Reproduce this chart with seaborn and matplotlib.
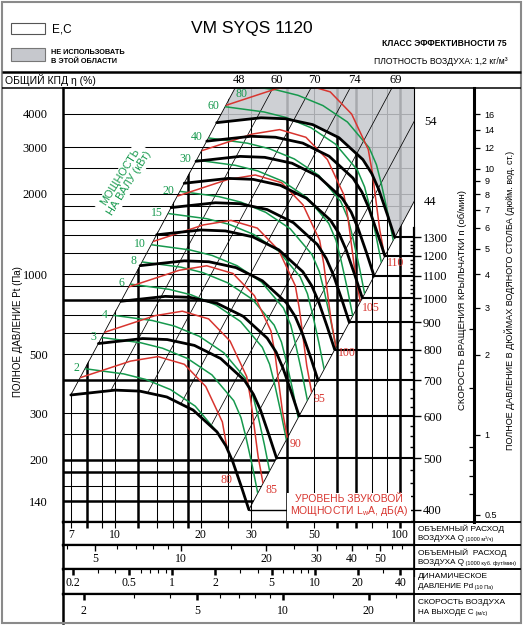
import numpy as np
import pandas as pd
import matplotlib
matplotlib.use("Agg")
import matplotlib.pyplot as plt
import seaborn as sns
from matplotlib.patches import Rectangle, Polygon
from matplotlib.lines import Line2D
from matplotlib.ticker import NullFormatter, NullLocator
from matplotlib.transforms import blended_transform_factory, offset_copy

# ---- values (Q in 1000 m3/h, Pt in Pa) ----
rpm = [400, 500, 600, 700, 800, 900, 1000, 1100, 1200, 1300]
black_q = [
    [7.0, 10.0, 12.2, 15.2, 18.8, 22.8, 24.5, 25.9, 27.8, 29.5],
    [8.75, 12.5, 15.25, 19.0, 23.5, 28.5, 30.6, 32.4, 34.75, 36.9],
    [10.5, 15.0, 18.3, 22.8, 28.2, 34.2, 36.75, 38.85, 41.7, 44.25],
    [12.25, 17.5, 21.35, 26.6, 32.9, 39.9, 42.9, 45.3, 48.65, 51.6],
    [14.0, 20.0, 24.4, 30.4, 37.6, 45.6, 49.0, 51.8, 55.6, 59.0],
    [15.75, 22.5, 27.45, 34.2, 42.3, 51.3, 55.1, 58.3, 62.55, 66.4],
    [17.5, 25.0, 30.5, 38.0, 47.0, 57.0, 61.25, 64.75, 69.5, 73.75],
    [19.25, 27.5, 33.55, 41.8, 51.7, 62.7, 67.4, 71.2, 76.45, 81.1],
    [21.0, 30.0, 36.6, 45.6, 56.4, 68.4, 73.5, 77.7, 83.4, 88.5],
    [22.75, 32.5, 39.65, 49.4, 61.1, 74.1, 79.6, 84.2, 90.35, 95.9],
]
black_p = [
    [351, 366, 363, 345, 308, 255, 226, 197, 158, 130],
    [548, 572, 567, 539, 481, 398, 353, 308, 247, 203],
    [790, 824, 817, 776, 693, 574, 509, 443, 356, 293],
    [1075, 1121, 1112, 1057, 943, 781, 692, 603, 484, 398],
    [1404, 1464, 1452, 1380, 1232, 1020, 904, 788, 632, 520],
    [1777, 1853, 1838, 1747, 1559, 1291, 1144, 997, 800, 658],
    [2194, 2288, 2269, 2156, 1925, 1594, 1413, 1231, 988, 813],
    [2654, 2768, 2745, 2609, 2329, 1928, 1709, 1490, 1195, 983],
    [3159, 3294, 3267, 3105, 2772, 2295, 2034, 1773, 1422, 1170],
    [3707, 3866, 3834, 3644, 3253, 2693, 2387, 2081, 1669, 1373],
]

power_kw = [2, 3, 4, 6, 8, 10, 15, 20, 30, 40, 60, 80]
green_q = [
    [7.85, 10.73, 12.83, 15.69, 19.12, 22.80, 24.18, 25.17, 26.53, 27.68],
    [8.98, 12.28, 14.69, 17.96, 21.89, 26.10, 27.68, 28.81, 30.37, 31.69],
    [9.88, 13.52, 16.17, 19.77, 24.09, 28.73, 30.46, 31.71, 33.43, 34.88],
    [11.31, 15.47, 18.51, 22.63, 27.58, 32.88, 34.87, 36.30, 38.26, 39.93],
    [12.45, 17.03, 20.37, 24.91, 30.35, 36.19, 38.38, 39.95, 42.11, 43.94],
    [13.41, 18.34, 21.94, 26.83, 32.70, 38.99, 41.35, 43.04, 45.37, 47.34],
    [15.36, 21.00, 25.12, 30.71, 37.43, 44.63, 47.33, 49.27, 51.93, 54.19],
    [16.90, 23.11, 27.65, 33.80, 41.20, 49.12, 52.10, 54.22, 57.16, 59.64],
    [19.35, 26.46, 31.65, 38.69, 47.16, 56.23, 59.63, 62.07, 65.43, 68.27],
    [21.29, 29.12, 34.83, 42.59, 51.91, 61.89, 65.64, 68.32, 72.02, 75.15],
    [24.38, 33.33, 39.87, 48.75, 59.42, 70.85, 75.13, 78.20, 82.44, 86.02],
    [26.83, 36.69, 43.89, 53.66, 65.40, 77.98, 82.70, 86.07, 90.73, 94.68],
]
green_p = [
    [440.6, 421.2, 401.4, 367.4, 318.7, 255.0, 220.2, 186.0, 143.9, 114.5],
    [577.4, 551.9, 526.0, 481.4, 417.6, 334.1, 288.5, 243.7, 188.6, 150.0],
    [699.5, 668.6, 637.2, 583.2, 505.9, 404.7, 349.5, 295.2, 228.5, 181.7],
    [916.6, 876.1, 835.0, 764.2, 662.9, 530.4, 458.0, 386.9, 299.4, 238.1],
    [1110.3, 1061.3, 1011.5, 925.7, 803.1, 642.5, 554.8, 468.6, 362.7, 288.5],
    [1288.5, 1231.6, 1173.8, 1074.3, 931.9, 745.6, 643.8, 543.8, 420.9, 334.7],
    [1688.3, 1613.8, 1538.0, 1407.6, 1221.1, 976.9, 843.6, 712.6, 551.5, 438.6],
    [2045.3, 1955.0, 1863.2, 1705.3, 1479.2, 1183.5, 1021.9, 863.2, 668.1, 531.3],
    [2680.1, 2561.7, 2441.5, 2234.5, 1938.3, 1550.8, 1339.1, 1131.2, 875.4, 696.2],
    [3246.8, 3103.4, 2957.8, 2707.0, 2348.2, 1878.7, 1622.3, 1370.3, 1060.5, 843.5],
    [4254.3, 4066.5, 3875.6, 3547.0, 3076.9, 2461.7, 2125.7, 1795.6, 1389.6, 1105.2],
    [5153.8, 4926.1, 4694.9, 4296.9, 3727.4, 2982.1, 2575.1, 2175.2, 1683.4, 1339.0],
]

sound_db = [80, 85, 90, 95, 100, 105, 110]
red_q = [
    [7.54, 11.34, 14.16, 17.51, 20.82, 23.81, 24.60, 25.20, 26.11, 27.17],
    [9.18, 13.80, 17.23, 21.31, 25.34, 28.98, 29.94, 30.67, 31.78, 33.07],
    [11.17, 16.80, 20.98, 25.94, 30.84, 35.27, 36.44, 37.33, 38.68, 40.25],
    [13.59, 20.45, 25.53, 31.57, 37.54, 42.93, 44.35, 45.44, 47.08, 48.99],
    [16.55, 24.88, 31.07, 38.42, 45.69, 52.25, 53.98, 55.30, 57.30, 59.62],
    [20.14, 30.29, 37.82, 46.77, 55.61, 63.59, 65.70, 67.30, 69.73, 72.57],
    [24.51, 36.86, 46.03, 56.92, 67.68, 77.40, 79.97, 81.92, 84.88, 88.32],
]
red_p = [
    [407.5, 470.6, 489.3, 457.8, 377.8, 278.0, 227.8, 186.5, 139.3, 110.3],
    [603.6, 697.1, 724.8, 678.1, 559.6, 411.8, 337.4, 276.3, 206.3, 163.4],
    [894.3, 1032.8, 1073.8, 1004.7, 829.1, 610.1, 499.9, 409.3, 305.7, 242.1],
    [1324.7, 1529.8, 1590.6, 1488.2, 1228.2, 903.7, 740.5, 606.3, 452.8, 358.6],
    [1962.3, 2266.1, 2356.2, 2204.5, 1819.3, 1338.7, 1096.9, 898.1, 670.8, 531.1],
    [2906.8, 3356.9, 3490.3, 3265.6, 2694.9, 1983.0, 1624.9, 1330.3, 993.7, 786.8],
    [4306.5, 4973.3, 5170.9, 4838.0, 3992.6, 2937.9, 2407.4, 1970.9, 1472.1, 1165.7],
]

# total efficiency lines, Pt = k * Q^2
eff_pct = [48, 60, 70, 74, 69, 54, 44]
eff_k = [7.19, 3.90, 2.11, 1.12, 0.570, 0.298, 0.149]

p_major = [140, 200, 300, 500, 1000, 2000, 3000, 4000]
p_minor = [160, 180, 250, 400, 600, 700, 800, 900, 1200, 1400, 1600, 1800, 2500]
p_thick = [140, 180, 200, 400, 800]
q_grid = [7, 8, 9, 10, 12, 14, 16, 18, 20, 25, 30, 40, 50, 60, 70, 80, 90, 100]
q_thick = [8, 12, 18, 40, 60, 70, 100]
q_labels = [7, 10, 20, 30, 50, 100]
cfm_labels = [5, 10, 20, 30, 40, 50]
cfm_minor = [4, 6, 7, 8, 9, 15, 25, 35, 45, 55, 60]
pd_labels = [0.2, 0.5, 1, 2, 5, 10, 20, 40]
pd_minor = [0.3, 0.4, 0.6, 0.7, 0.8, 0.9, 3, 4, 6, 7, 8, 9, 30]
c_labels = [2, 5, 10, 20]
c_minor = [3, 4, 6, 7, 8, 9, 15, 25]
inch_major = [0.5, 1, 2, 3, 4, 5, 6, 7, 8, 9, 10, 12, 14, 16]
inch_minor = [0.6, 0.7, 0.8, 0.9, 1.5, 2.5]
rpm_minor = [n for n in range(425, 1000, 25) if n % 100] + [n for n in range(1020, 1300, 20) if n % 100]

CFM_TO_Q = 1.699      # 1000 cfm -> 1000 m3/h
V_PER_Q = 0.2573      # outlet velocity m/s per 1000 m3/h
RHO = 1.2
PA_PER_INCH = 249.09

GREEN = '#16994d'
RED = '#d8352f'
GRAY = '#c6c8cd'
SANS = ['Liberation Sans', 'DejaVu Sans']
NARROW = ['Liberation Sans Narrow', 'Liberation Sans', 'DejaVu Sans']
SERIF = ['Liberation Serif', 'DejaVu Serif']

sns.set_style("white")
plt.rcParams.update({
    'font.family': SANS,
    'axes.edgecolor': 'black', 'text.color': 'black',
    'xtick.color': 'black', 'ytick.color': 'black',
})

W, H = 524, 626
fig = plt.figure(figsize=(W / 100, H / 100), dpi=100)


def fx(x):
    return x / W


def fy(y):
    return 1 - y / H


def box(x0, y0, x1, y1):
    return [fx(x0), fy(y1), fx(x1) - fx(x0), fy(y0) - fy(y1)]


def fig_line(x0, y0, x1, y1, lw, color='black'):
    fig.add_artist(Line2D([fx(x0), fx(x1)], [fy(y0), fy(y1)], transform=fig.transFigure,
                          color=color, lw=lw, solid_capstyle='butt'))


def long_frame(qs, ps, ids):
    rows = [(cid, a, b) for cid, q, p in zip(ids, qs, ps) for a, b in zip(q, p)]
    return pd.DataFrame(rows, columns=['curve', 'q', 'p'])


ax = fig.add_axes(box(63, 88, 414, 522))
ax.set_xscale('log')
ax.set_yscale('log')

k_left, k_right = eff_k[0], eff_k[-1]
q_hi, p_hi, p_lo = 150.0, 9000.0, 50.0
left_of_right = Polygon([(1, p_lo), (np.sqrt(p_lo / k_right), p_lo), (q_hi, k_right * q_hi ** 2),
                         (q_hi, p_hi), (1, p_hi)], closed=True, transform=ax.transData)
right_of_left = Polygon([(np.sqrt(p_lo / k_left), p_lo), (q_hi, p_lo), (q_hi, p_hi),
                         (np.sqrt(p_hi / k_left), p_hi)], closed=True, transform=ax.transData)
region = Polygon(list(zip(black_q[0], black_p[0])) +
                 [(q_hi, k_right * q_hi ** 2), (q_hi, p_hi), (np.sqrt(p_hi / k_left), p_hi)],
                 closed=True, transform=ax.transData)

# grid
for p in p_major + p_minor:
    ln = ax.axhline(p, color='black', lw=1.8 if p in p_thick else 0.75, zorder=1)
    ln.set_clip_path(left_of_right)
for q in q_grid:
    ln = ax.axvline(q, color='black', lw=1.8 if q in q_thick else 0.75, zorder=1)
    ln.set_clip_path(right_of_left)

# "do not use" area above the top speed
gray = Polygon([(np.sqrt(p_hi / k_left), p_hi)] + list(zip(black_q[-1], black_p[-1])) +
               [(q_hi, k_right * q_hi ** 2), (q_hi, p_hi)], closed=True,
               fc=GRAY, ec='none', alpha=0.85, zorder=1.5)
ax.add_patch(gray)

# efficiency lines
q_line = np.array([1.0, q_hi])
for k in eff_k[1:-1]:
    ln, = ax.plot(q_line, k * q_line ** 2, color='black', lw=0.55, zorder=2)
    ln.set_clip_path(region)
ax.plot([black_q[0][0], np.sqrt(p_hi / k_left)], [black_p[0][0], p_hi], color='black', lw=0.6, zorder=2)
ax.plot([black_q[0][-1], q_hi], [black_p[0][-1], k_right * q_hi ** 2], color='black', lw=0.6, zorder=2)

# shaft power and sound power curves
n0 = len(ax.lines)
sns.lineplot(data=long_frame(green_q, green_p, power_kw), x='q', y='p', units='curve',
             estimator=None, sort=False, color=GREEN, lw=1.1, zorder=3, legend=False, ax=ax)
sns.lineplot(data=long_frame(red_q, red_p, sound_db), x='q', y='p', units='curve',
             estimator=None, sort=False, color=RED, lw=1.1, zorder=3.5, legend=False, ax=ax)
for ln in ax.lines[n0:]:
    ln.set_clip_path(region)

# fan curves
sns.lineplot(data=long_frame(black_q, black_p, rpm), x='q', y='p', units='curve',
             estimator=None, sort=False, color='black', lw=2.0, zorder=5, legend=False, ax=ax)

ax.set_xlim(6.57, 112.0)
ax.set_ylim(116.9, 5003)
ax.set_xlabel('')
ax.set_ylabel('')
q_right = ax.get_xlim()[1]
p_top = ax.get_ylim()[1]

# speed reference lines to the rpm scale
for i, n in enumerate(rpm):
    ax.plot([black_q[i][-1], q_right], [black_p[i][-1]] * 2, color='black',
            lw=1.0 if i == 0 else 1.5, zorder=4, solid_capstyle='butt')

# labels on curves
for w, q, p in zip(power_kw, green_q, green_p):
    if p[0] < p_top:
        ax.annotate(str(w), (q[0], p[0]), xytext=(-4, 0.5), textcoords='offset points',
                    ha='right', va='center', color=GREEN, fontsize=8.5, family=SERIF, zorder=7)
    else:
        ax.text(27.9, 4750, str(w), ha='center', va='center', color=GREEN, fontsize=8.5,
                family=SERIF, zorder=7)
for db, q, p in zip(sound_db, red_q, red_p):
    if db == sound_db[0]:
        ax.text(24.6, 168, str(db), ha='center', va='center', color=RED, fontsize=8.5,
                family=SERIF, zorder=7)
    else:
        ax.annotate(str(db), (q[-1], p[-1]), xytext=(1.5, -4.5), textcoords='offset points',
                    ha='left', va='center', color=RED, fontsize=8.5, family=SERIF, zorder=7)

top_tr = offset_copy(blended_transform_factory(ax.transData, fig.transFigure), fig=fig, x=4, units='dots')
right_tr = blended_transform_factory(ax.transAxes, ax.transData)
for e, k in zip(eff_pct, eff_k):
    q_top = np.sqrt(p_top / k)
    if q_top <= q_right:
        ax.text(q_top, fy(80), str(e), transform=top_tr, ha='center', va='center',
                fontsize=9, family=SERIF)
    else:
        ax.text(1.046, k * q_right ** 2, str(e), transform=right_tr, ha='center',
                va='center', fontsize=9, family=SERIF)

# left pressure axis
ax.set_xticks([])
ax.xaxis.set_minor_locator(NullLocator())
ax.set_yticks(p_major, [str(v) for v in p_major])
ax.set_yticks(p_minor, minor=True)
ax.yaxis.set_minor_formatter(NullFormatter())
ax.tick_params(axis='y', which='major', length=9.4, width=1.0, pad=1.5, labelsize=9,
               labelfontfamily='Liberation Serif')
ax.tick_params(axis='y', which='minor', length=4.3, width=0.75)
for loc, t in zip(ax.yaxis.get_majorticklocs(), ax.yaxis.get_major_ticks()):
    t.tick1line.set_markeredgewidth(1.8 if loc in p_thick else 1.0)
for loc, t in zip(ax.yaxis.get_minorticklocs(), ax.yaxis.get_minor_ticks()):
    t.tick1line.set_markeredgewidth(1.8 if loc in p_thick else 0.75)
ax.spines['left'].set_linewidth(1.8)
ax.spines['top'].set_linewidth(1.1)
ax.spines['right'].set_linewidth(0.8)
ax.spines['bottom'].set_linewidth(1.6)


# impeller speed scale
def p_to_rpm(p):
    return rpm[0] * np.sqrt(np.maximum(np.asarray(p, dtype=float), 1e-9) / black_p[0][-1])


def rpm_to_p(n):
    return black_p[0][-1] * (np.asarray(n, dtype=float) / rpm[0]) ** 2


sec = ax.secondary_yaxis(1.0, functions=(p_to_rpm, rpm_to_p))
sec.set_yticks(rpm, [str(n) for n in rpm])
sec.set_yticks(rpm_minor, minor=True)
sec.yaxis.set_minor_formatter(NullFormatter())
sec.tick_params(axis='y', which='major', direction='out', length=5, width=1.0, pad=1.5,
                labelsize=9, labelfontfamily='Liberation Serif')
sec.tick_params(axis='y', which='minor', direction='in', length=3, width=1.0)
sec.spines['right'].set_linewidth(1.6)
sec.spines['right'].set_bounds(300, 1354)

# pressure in inches of water
sec2 = ax.secondary_yaxis((474 - 63) / (414 - 63),
                          functions=(lambda p: np.asarray(p, dtype=float) / PA_PER_INCH,
                                     lambda i: np.asarray(i, dtype=float) * PA_PER_INCH))
sec2.set_yticks(inch_major, [f"{v:g}" for v in inch_major])
sec2.set_yticks(inch_minor, minor=True)
sec2.yaxis.set_minor_formatter(NullFormatter())
sec2.tick_params(axis='y', which='major', direction='out', length=4.5, width=0.9, pad=3, labelsize=6.5)
sec2.tick_params(axis='y', which='minor', direction='in', length=3.5, width=0.9)
for loc, t in zip(sec2.yaxis.get_majorticklocs(), sec2.yaxis.get_major_ticks()):
    if loc in (4, 6):
        t.tick1line.set_color('#aaaaaa')
        t.tick2line.set_color('#aaaaaa')
sec2.spines['right'].set_linewidth(2.2)

# bottom scales
rows_px = [(522, 545), (545, 569), (569, 594), (594, 623)]
row_ticks = [
    (q_grid, []),
    ([v * CFM_TO_Q for v in cfm_labels], [v * CFM_TO_Q for v in cfm_minor]),
    ([np.sqrt(v * 10 / (0.5 * RHO)) / V_PER_Q for v in pd_labels],
     [np.sqrt(v * 10 / (0.5 * RHO)) / V_PER_Q for v in pd_minor]),
    ([v / V_PER_Q for v in c_labels], [v / V_PER_Q for v in c_minor]),
]
row_text = [q_labels, cfm_labels, pd_labels, c_labels]
row_text_q = [q_labels, row_ticks[1][0], row_ticks[2][0], row_ticks[3][0]]
row_titles = [
    ("ОБЪЕМНЫЙ РАСХОД", "ВОЗДУХА Q", "(1000 м³/ч)"),
    ("ОБЪЕМНЫЙ  РАСХОД", "ВОЗДУХА Q", "(1000 куб. фут/мин)"),
    ("ДИНАМИЧЕСКОЕ", "ДАВЛЕНИЕ Pd", "(10 Па)"),
    ("СКОРОСТЬ ВОЗДУХА", "НА ВЫХОДЕ C", "(м/с)"),
]
row_title_y = [(529, 539), (553, 563), (577, 587), (603, 613)]

for i, (y0, y1) in enumerate(rows_px):
    r = fig.add_axes(box(63, y0, 414, y1))
    r.set_xscale('log')
    r.set_xlim(ax.get_xlim())
    r.set_yticks([])
    major, minor = row_ticks[i]
    r.set_xticks(major)
    r.set_xticks(minor, minor=True)
    r.tick_params(axis='x', which='both', top=True, bottom=False, direction='in',
                  labelbottom=False, labeltop=False)
    r.tick_params(axis='x', which='major', length=4.5, width=1.0)
    r.tick_params(axis='x', which='minor', length=3.0, width=0.8)
    for loc, t in zip(r.xaxis.get_majorticklocs(), r.xaxis.get_major_ticks()):
        if i == 0:
            t.tick2line.set_markeredgewidth(1.8 if loc in q_thick else 0.8)
        elif i > 1:
            t.tick2line.set_markeredgewidth(1.8)
    for s in ('top', 'bottom'):
        r.spines[s].set_linewidth(1.6)
    r.spines['left'].set_linewidth(1.8)
    r.spines['right'].set_linewidth(1.2)
    if i == 3:
        r.spines['bottom'].set_visible(False)
    tr = blended_transform_factory(r.transData, r.transAxes)
    for q, v in zip(row_text_q[i], row_text[i]):
        r.text(q, 0.43, f"{v:g}", transform=tr, ha='center', va='center', fontsize=8.5, family=SERIF)
    l1, l2, l3 = row_titles[i]
    ya, yb = row_title_y[i]
    fig.text(fx(418), fy(ya), l1, fontsize=6, family=NARROW, ha='left', va='center')
    t2 = fig.text(fx(418), fy(yb), l2, fontsize=5.8, family=NARROW, ha='left', va='center')
    r.annotate(" " + l3, xy=(1, 0.5), xycoords=t2, ha='left', va='center', fontsize=4.0,
               family=NARROW, annotation_clip=False)
    fig_line(414, y0, 521, y0, 1.4)

# axis titles and notes
fig.text(fx(18), fy(332), "ПОЛНОЕ ДАВЛЕНИЕ Pt (Па)", rotation=90, fontsize=7, ha='center', va='center')
fig.text(fx(463), fy(300), "СКОРОСТЬ ВРАЩЕНИЯ КРЫЛЬЧАТКИ n (об/мин)", rotation=90, fontsize=6.8,
         ha='center', va='center')
fig.text(fx(510), fy(300), "ПОЛНОЕ ДАВЛЕНИЕ В ДЮЙМАХ ВОДЯНОГО СТОЛБА (дюйм. вод. ст.)", rotation=90,
         fontsize=6.5, ha='center', va='center')
fig.text(fx(349), fy(506), "УРОВЕНЬ ЗВУКОВОЙ\nМОЩНОСТИ L$_\\mathregular{w}$A, дБ(А)", color=RED,
         fontsize=7.5, ha='center', va='center', linespacing=1.0, zorder=8,
         bbox=dict(boxstyle='square,pad=0.3', fc='white', ec='none'))
fig.text(fx(125), fy(180), "МОЩНОСТЬ\nНА ВАЛУ (кВт)", color=GREEN, fontsize=7.8, rotation=58,
         rotation_mode='anchor', ha='center', va='center', multialignment='center', linespacing=1.05,
         zorder=8, bbox=dict(boxstyle='square,pad=0.15', fc='white', ec='none'))
fig.text(fx(5), fy(80), "ОБЩИЙ КПД η (%)", fontsize=7.5, family=NARROW, ha='left', va='center')

# header
fig.add_artist(Rectangle((fx(11), fy(34)), fx(45) - fx(11), fy(23) - fy(34), transform=fig.transFigure,
                         fc='white', ec='#555555', lw=0.8))
fig.text(fx(52), fy(29), "E,C", fontsize=8.5, ha='left', va='center')
fig.add_artist(Rectangle((fx(11), fy(61)), fx(45) - fx(11), fy(48) - fy(61), transform=fig.transFigure,
                         fc=GRAY, ec='#777777', lw=0.8))
fig.text(fx(51), fy(52), "НЕ ИСПОЛЬЗОВАТЬ", fontsize=5.3, fontweight='bold', ha='left', va='center')
fig.text(fx(51), fy(61.5), "В ЭТОЙ ОБЛАСТИ", fontsize=5.3, fontweight='bold', ha='left', va='center')
fig.text(fx(252), fy(29), "VM SYQS 1120", fontsize=12.5, ha='center', va='center')
fig.text(fx(507), fy(44), "КЛАСС ЭФФЕКТИВНОСТИ 75", fontsize=6.2, fontweight='bold', ha='right', va='center')
fig.text(fx(508), fy(61), "ПЛОТНОСТЬ ВОЗДУХА: 1,2 кг/м³", fontsize=6.2, ha='right', va='center')

fig_line(2, 72, 521, 72, 1.8)
fig_line(2, 88, 521, 88, 1.1)
fig.add_artist(Rectangle((fx(2), fy(623)), fx(521) - fx(2), fy(2) - fy(623), transform=fig.transFigure,
                         fill=False, ec='#8a8a8a', lw=1.5))

fig.savefig('out.png', dpi=100)
